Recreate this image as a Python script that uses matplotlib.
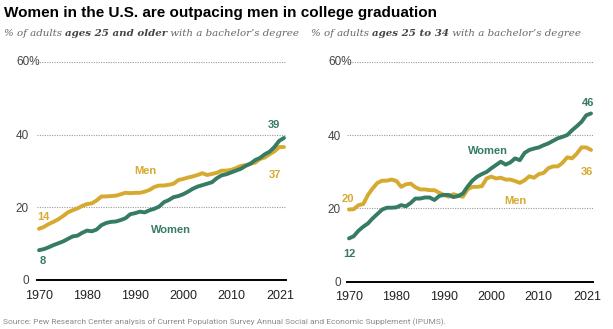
import numpy as np
import matplotlib
matplotlib.use("Agg")
import matplotlib.pyplot as plt
from matplotlib.transforms import offset_copy

# Share of adults with a bachelor's degree, 1970-2021 (%)
years = list(range(1970, 2022))

men_25plus = [14.1, 14.6, 15.4, 16.0, 16.7, 17.6, 18.6, 19.2, 19.7, 20.4,
              20.9, 21.1, 21.9, 23.0, 23.0, 23.1, 23.2, 23.6, 24.0, 23.9,
              24.0, 24.0, 24.3, 24.8, 25.6, 26.0, 26.0, 26.2, 26.5, 27.5,
              27.8, 28.2, 28.5, 28.9, 29.4, 28.9, 29.2, 29.5, 30.1, 30.1,
              30.3, 30.8, 31.4, 31.6, 32.0, 32.3, 33.3, 33.7, 34.6, 35.4,
              36.6, 36.6]
women_25plus = [8.2, 8.5, 9.0, 9.6, 10.1, 10.6, 11.3, 12.0, 12.2, 13.0,
                13.6, 13.4, 13.9, 15.1, 15.7, 16.0, 16.1, 16.5, 17.0, 18.1,
                18.4, 18.8, 18.6, 19.2, 19.6, 20.2, 21.4, 22.0, 22.8, 23.1,
                23.6, 24.3, 25.1, 25.7, 26.1, 26.5, 26.9, 28.0, 28.8, 29.1,
                29.6, 30.1, 30.6, 31.4, 32.0, 33.0, 33.6, 34.6, 35.3, 36.6,
                38.3, 39.1]

men_25to34 = [19.7, 19.8, 20.9, 21.2, 23.7, 25.5, 27.0, 27.6, 27.6, 27.9,
              27.5, 25.9, 26.6, 26.8, 25.8, 25.2, 25.2, 25.0, 25.0, 24.3,
              23.7, 23.2, 23.9, 23.5, 23.2, 25.2, 25.9, 25.9, 26.1, 28.2,
              28.7, 28.2, 28.4, 27.9, 27.9, 27.5, 27.0, 27.7, 28.8, 28.4,
              29.4, 29.7, 31.0, 31.5, 31.5, 32.5, 34.0, 33.7, 35.0, 36.7,
              36.7, 36.0]
women_25to34 = [11.8, 12.4, 13.9, 15.0, 15.9, 17.3, 18.5, 19.7, 20.2, 20.2,
                20.3, 20.9, 20.6, 21.5, 22.7, 22.7, 23.0, 23.0, 22.3, 23.4,
                23.7, 23.7, 23.1, 23.4, 24.1, 26.0, 27.6, 28.7, 29.4, 30.0,
                31.0, 31.9, 32.8, 32.0, 32.6, 33.7, 33.2, 35.2, 36.0, 36.4,
                36.7, 37.3, 37.8, 38.5, 39.2, 39.6, 40.1, 41.4, 42.5, 43.7,
                45.5, 46.0]

xticks = [1970, 1980, 1990, 2000, 2010, 2021]
yticks = [0, 20, 40, 60]

GREEN = "#367b64"
GOLD = "#d6a92f"
FONT = "Liberation Sans"

fig = plt.figure(figsize=(6.13, 3.29), dpi=100)
W, H = 613, 329


def px_axes(x0, x1, ybottom, ytop):
    return fig.add_axes([x0 / W, (H - ybottom) / H, (x1 - x0) / W, (ybottom - ytop) / H])


def draw_panel(ax, men, women, lab_pad, labels):
    ax.set_xlim(1969.58, 2021.42)
    ax.set_ylim(0, 60)
    for s in ["top", "right", "left"]:
        ax.spines[s].set_visible(False)
    ax.spines["bottom"].set_color("black")
    ax.spines["bottom"].set_linewidth(1.4)
    for v in yticks[1:]:
        ax.axhline(v, color="#9a9a9a", lw=0.8, ls=(0, (1, 1.2)), zorder=1)
    ax.plot(years, men, color=GOLD, lw=2.8, solid_capstyle="round", zorder=3, clip_on=False)
    ax.plot(years, women, color=GREEN, lw=2.8, solid_capstyle="round", zorder=4, clip_on=False)

    ax.set_xticks(xticks)
    ax.set_xticklabels([str(x) for x in xticks], fontfamily=FONT, fontsize=9, color="#222222")
    ax.tick_params(axis="x", length=0, pad=7)
    last = ax.get_xticklabels()[-1]
    last.set_transform(offset_copy(last.get_transform(), fig=fig, x=-4, units="dots"))

    # y labels: numbers right-aligned, top one carries a hanging "%"
    ax.set_yticks(yticks)
    ax.set_yticklabels([str(v) for v in yticks[:-1]] + [""], fontfamily=FONT,
                       fontsize=8.5, color="#444444")
    ax.tick_params(axis="y", length=0, pad=lab_pad)
    top = offset_copy(ax.get_yaxis_transform(), fig=fig, x=-lab_pad / 0.72 - 13, units="dots")
    ax.text(0, yticks[-1], f"{yticks[-1]}%", transform=top, ha="left", va="center",
            fontfamily=FONT, fontsize=8.5, color="#444444")

    # end / start value labels
    bold = dict(fontfamily=FONT, fontsize=8, fontweight="bold", ha="center", va="center")
    (w_end, m_end, m_start, w_start) = labels
    ax.annotate(f"{women[-1]:.0f}", (years[-1], women[-1]), xytext=w_end,
                textcoords="offset points", color=GREEN, **bold)
    ax.annotate(f"{men[-1]:.0f}", (years[-1], men[-1]), xytext=m_end,
                textcoords="offset points", color=GOLD, **bold)
    ax.annotate(f"{men[0]:.0f}", (years[0], men[0]), xytext=m_start,
                textcoords="offset points", color=GOLD, **bold)
    ax.annotate(f"{women[0]:.0f}", (years[0], women[0]), xytext=w_start,
                textcoords="offset points", color=GREEN, **bold)
    return bold


ax1 = px_axes(37, 286, 280, 62)
bold = draw_panel(ax1, men_25plus, women_25plus, 5.8,
                  [(-7, 9.5), (-6.5, -20.5), (3.5, 8.5), (2.7, -7.8)])
ax1.text(1992.2, 30.1, "Men", color=GOLD, **bold)
ax1.text(1997.4, 13.8, "Women", color=GREEN, **bold)

ax2 = px_axes(347, 593, 281.5, 62.3)
draw_panel(ax2, men_25to34, women_25to34, 4.3,
           [(-2, 7.2), (-3, -16), (-0.7, 7.3), (0, -11.3)])
ax2.text(1999.3, 35.8, "Women", color=GREEN, **bold)
ax2.text(2005.0, 22.0, "Men", color=GOLD, **bold)

# title
fig.text(4 / W, 1 - 13 / H, "Women in the U.S. are outpacing men in college graduation",
         fontfamily=FONT, fontweight="bold", fontsize=11.0, color="black",
         ha="left", va="center")


# subtitles with a bold-italic middle part
def subtitle(x_px, parts):
    fig.canvas.draw()
    r = fig.canvas.get_renderer()
    x = x_px
    for txt, weight in parts:
        t = fig.text(x / W, 1 - 34 / H, txt, fontfamily="DejaVu Serif", fontstyle="italic",
                     fontweight=weight, fontsize=7.35, color="#666666" if weight == "normal" else "#444444",
                     ha="left", va="center")
        bb = t.get_window_extent(renderer=r)
        x += bb.width


subtitle(4, [("% of adults ", "normal"), ("ages 25 and older", "bold"),
             (" with a bachelor\u2019s degree", "normal")])
subtitle(311, [("% of adults ", "normal"), ("ages 25 to 34", "bold"),
               (" with a bachelor\u2019s degree", "normal")])

fig.text(3 / W, 1 - 322 / H,
         "Source: Pew Research Center analysis of Current Population Survey Annual Social and Economic Supplement (IPUMS).",
         fontfamily="Roboto", fontsize=6.0, color="#8a8a8a", ha="left", va="center")

fig.savefig("out.png", dpi=100)
